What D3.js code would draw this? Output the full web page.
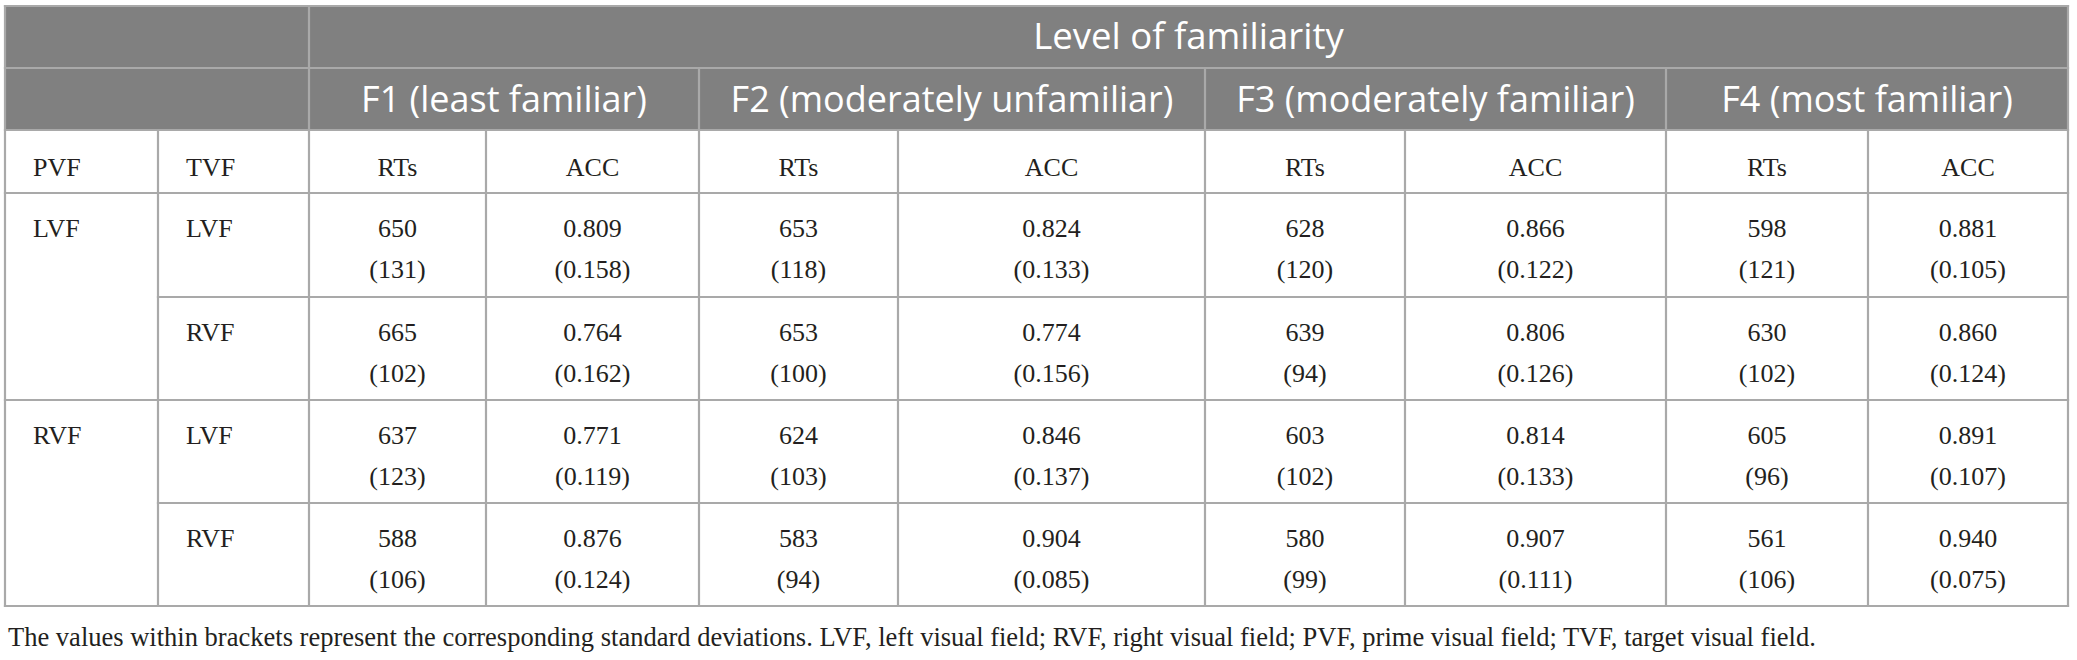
<!DOCTYPE html>
<html>
<head>
<meta charset="utf-8">
<script src="https://cdn.jsdelivr.net/npm/d3@7/dist/d3.min.js"></script>
<style>
  html, body { margin: 0; padding: 0; background: #fff; }
  svg { display: block; }
</style>
</head>
<body>
<div id="chart"></div>
<script>
// ---------- data ----------
const topHeader = "Level of familiarity";
const familiarity = ["F1 (least familiar)", "F2 (moderately unfamiliar)", "F3 (moderately familiar)", "F4 (most familiar)"];
const measures = ["RTs", "ACC"];
const rowHeaders = ["PVF", "TVF"];
const pvfLabels = ["LVF", "RVF"];
const tvfLabels = ["LVF", "RVF", "LVF", "RVF"];
const rtMean = [[650, 653, 628, 598], [665, 653, 639, 630], [637, 624, 603, 605], [588, 583, 580, 561]];
const rtSD   = [[131, 118, 120, 121], [102, 100, 94, 102], [123, 103, 102, 96], [106, 94, 99, 106]];
const accMean = [[0.809, 0.824, 0.866, 0.881], [0.764, 0.774, 0.806, 0.860], [0.771, 0.846, 0.814, 0.891], [0.876, 0.904, 0.907, 0.940]];
const accSD   = [[0.158, 0.133, 0.122, 0.105], [0.162, 0.156, 0.126, 0.124], [0.119, 0.137, 0.133, 0.107], [0.124, 0.085, 0.111, 0.075]];
const footnote = "The values within brackets represent the corresponding standard deviations. LVF, left visual field; RVF, right visual field; PVF, prime visual field; TVF, target visual field.";

// ---------- layout ----------
const W = 2077, H = 660;
const colEdges = [5, 158, 309, 486, 699, 898, 1205, 1405, 1666, 1868, 2068];
const rowEdges = [6, 68, 130, 193, 297, 400, 503, 606];
const headFill = "#808080";
const gridColor = "#a9a9a9";
const textColor = "#231f20";
const serif = "'Liberation Serif', 'Times New Roman', serif";
const sans = "'Open Sans', 'Noto Sans', sans-serif";

const x = d3.scaleOrdinal().domain(d3.range(colEdges.length)).range(colEdges);
const y = d3.scaleOrdinal().domain(d3.range(rowEdges.length)).range(rowEdges);
const fmtRT = d3.format("d");
const fmtAcc = d3.format(".3f");

const svg = d3.select("#chart").append("svg").attr("width", W).attr("height", H);
svg.append("rect").attr("width", W).attr("height", H).attr("fill", "#fff");

// header background
svg.append("rect").attr("x", x(0)).attr("y", y(0))
  .attr("width", x(10) - x(0)).attr("height", y(2) - y(0)).attr("fill", headFill);

// grid lines
const lines = [];
[0, 1, 2, 3, 5, 7].forEach(r => lines.push([x(0), y(r), x(10), y(r)]));
[4, 6].forEach(r => lines.push([x(1), y(r), x(10), y(r)]));
lines.push([x(0), y(0), x(0), y(7)]);
lines.push([x(10), y(0), x(10), y(7)]);
lines.push([x(2), y(0), x(2), y(7)]);
[4, 6, 8].forEach(c => lines.push([x(c), y(1), x(c), y(7)]));
[1, 3, 5, 7, 9].forEach(c => lines.push([x(c), y(2), x(c), y(7)]));

svg.append("g").selectAll("line").data(lines).join("line")
  .attr("x1", d => d[0]).attr("y1", d => d[1]).attr("x2", d => d[2]).attr("y2", d => d[3])
  .attr("stroke", gridColor).attr("stroke-width", 2.2).attr("stroke-linecap", "square");

// header texts
svg.append("text").attr("x", (x(2) + x(10)) / 2).attr("y", y(0) + 43)
  .attr("text-anchor", "middle").attr("font-family", sans).attr("font-size", 36.5)
  .attr("fill", "#fff").text(topHeader);

svg.append("g").selectAll("text").data(familiarity).join("text")
  .attr("x", (d, i) => (x(2 + 2 * i) + x(4 + 2 * i)) / 2)
  .attr("y", y(1) + 44)
  .attr("text-anchor", "middle").attr("font-family", sans).attr("font-size", 36)
  .attr("fill", "#fff").text(d => d);

const body = svg.append("g").attr("font-family", serif).attr("font-size", 26).attr("fill", textColor);

body.selectAll("text.rh").data(rowHeaders).join("text").attr("class", "rh")
  .attr("x", (d, i) => x(i) + 28).attr("y", y(2) + 46).text(d => d);

const measureCells = [];
familiarity.forEach((f, i) => measures.forEach((m, j) => measureCells.push({ c: 2 + 2 * i + j, m })));
body.selectAll("text.ms").data(measureCells).join("text").attr("class", "ms")
  .attr("x", d => (x(d.c) + x(d.c + 1)) / 2).attr("y", y(2) + 46)
  .attr("text-anchor", "middle").text(d => d.m);

body.selectAll("text.pvf").data(pvfLabels).join("text").attr("class", "pvf")
  .attr("x", x(0) + 28).attr("y", (d, i) => y(3 + 2 * i) + 44).text(d => d);

body.selectAll("text.tvf").data(tvfLabels).join("text").attr("class", "tvf")
  .attr("x", x(1) + 28).attr("y", (d, i) => y(3 + i) + 44).text(d => d);

const cells = [];
rtMean.forEach((row, r) => row.forEach((v, f) => {
  cells.push({ r, c: 2 + 2 * f, a: fmtRT(v), b: "(" + fmtRT(rtSD[r][f]) + ")" });
  cells.push({ r, c: 3 + 2 * f, a: fmtAcc(accMean[r][f]), b: "(" + fmtAcc(accSD[r][f]) + ")" });
}));
const cg = body.selectAll("g.cell").data(cells).join("g").attr("class", "cell");
cg.append("text").attr("x", d => (x(d.c) + x(d.c + 1)) / 2).attr("y", d => y(3 + d.r) + 44)
  .attr("text-anchor", "middle").text(d => d.a);
cg.append("text").attr("x", d => (x(d.c) + x(d.c + 1)) / 2).attr("y", d => y(3 + d.r) + 85)
  .attr("text-anchor", "middle").text(d => d.b);

const fn = svg.append("text").attr("x", 8).attr("y", 646)
  .attr("font-family", serif).attr("font-size", 25).attr("fill", textColor).text(footnote);
const targetW = 1809;
const len = fn.node().getComputedTextLength();
if (len > 0) fn.attr("font-size", 25 * targetW / len);
</script>
</body>
</html>
